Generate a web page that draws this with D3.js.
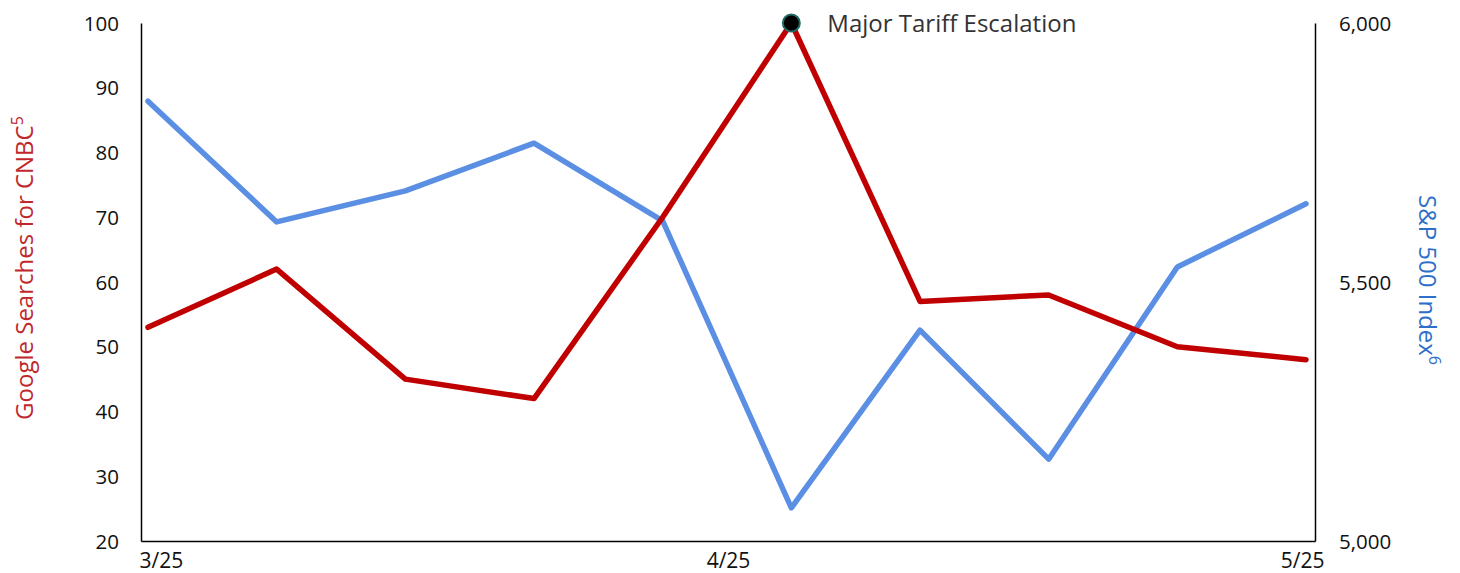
<!DOCTYPE html>
<html>
<head>
<meta charset="utf-8">
<script src="https://cdn.jsdelivr.net/npm/d3@7"></script>
<style>
  body { margin: 0; background: #fff; }
  text { font-family: "Open Sans", "Noto Sans", sans-serif; }
</style>
</head>
<body>
<div id="chart"></div>
<script>
// data
var weeks = ["w1", "w2", "w3", "w4", "w5", "w6", "w7", "w8", "w9", "w10"];
var cnbcSearches = [53, 62, 45, 42, 70, 100, 57, 58, 50, 48];
var spIndex = [5849, 5616, 5676, 5768, 5618, 5064, 5407, 5158, 5529, 5651];
var dateLabels = ["3/25", "4/25", "5/25"];
var leftTicks = [20, 30, 40, 50, 60, 70, 80, 90, 100];
var rightTicks = [5000, 5500, 6000];
var eventIndex = 5;
var eventLabel = "Major Tariff Escalation";

var svgWidth = 1460;
var svgHeight = 573;

var plotLeft = 141, plotRight = 1315, plotTop = 23, plotBottom = 541;

var svg = d3.select("#chart")
  .append("svg")
  .attr("width", svgWidth)
  .attr("height", svgHeight);

// scales
var xScale = d3.scalePoint()
  .domain(weeks)
  .range([148, 1306]);

var dateScale = d3.scalePoint()
  .domain(dateLabels)
  .range([plotLeft, plotRight]);

var yLeft = d3.scaleLinear()
  .domain([20, 100])
  .range([plotBottom, plotTop]);

var yRight = d3.scaleLinear()
  .domain([5000, 6000])
  .range([plotBottom, plotTop]);

// axes
var leftAxis = d3.axisLeft(yLeft).tickValues(leftTicks).tickSize(0).tickPadding(22);
var rightAxis = d3.axisRight(yRight).tickValues(rightTicks).tickSize(0)
  .tickPadding(24).tickFormat(d3.format(","));
var bottomAxis = d3.axisBottom(dateScale).tickSize(0).tickPadding(12);

var gLeft = svg.append("g")
  .attr("transform", `translate(${plotLeft},0)`)
  .call(leftAxis);
var gRight = svg.append("g")
  .attr("transform", `translate(${plotRight},0)`)
  .call(rightAxis);
var gBottom = svg.append("g")
  .attr("transform", `translate(0,${plotBottom})`)
  .call(bottomAxis);

[gLeft, gRight, gBottom].forEach(function(g) {
  g.select(".domain").attr("stroke", "#000").attr("stroke-width", 1.5);
  g.selectAll("text")
    .attr("font-size", 20.5)
    .attr("fill", "#111")
    .style("font-family", "'Open Sans', sans-serif");
});
gLeft.selectAll("text").attr("dy", "0.35em");
gRight.selectAll("text").attr("dy", "0.35em");
gBottom.selectAll("text").attr("font-size", 21);

// first and last date labels hug the axis ends
gBottom.selectAll(".tick text")
  .attr("text-anchor", function(d, i) {
    if (i === 0) return "start";
    if (i === dateLabels.length - 1) return "end";
    return "middle";
  })
  .attr("dx", function(d, i) {
    if (i === 0) return -2;
    if (i === dateLabels.length - 1) return 9;
    return 0;
  });

// lines
var redLine = d3.line()
  .x(function(d, i) { return xScale(weeks[i]); })
  .y(function(d) { return yLeft(d); });

var blueLine = d3.line()
  .x(function(d, i) { return xScale(weeks[i]); })
  .y(function(d) { return yRight(d); });

svg.append("path")
  .datum(spIndex)
  .attr("d", blueLine)
  .attr("fill", "none")
  .attr("stroke", "#5b8fe3")
  .attr("stroke-width", 5.5)
  .attr("stroke-linejoin", "round")
  .attr("stroke-linecap", "round");

svg.append("path")
  .datum(cnbcSearches)
  .attr("d", redLine)
  .attr("fill", "none")
  .attr("stroke", "#c00000")
  .attr("stroke-width", 5.5)
  .attr("stroke-linejoin", "round")
  .attr("stroke-linecap", "round");

// event marker
svg.append("circle")
  .attr("cx", xScale(weeks[eventIndex]))
  .attr("cy", yLeft(cnbcSearches[eventIndex]))
  .attr("r", 8.5)
  .attr("fill", "#000")
  .attr("stroke", "#1f6b63")
  .attr("stroke-width", 2);

svg.append("text")
  .attr("x", xScale(weeks[eventIndex]) + 36)
  .attr("y", yLeft(cnbcSearches[eventIndex]) + 1)
  .attr("dy", "0.35em")
  .attr("font-size", 24)
  .attr("fill", "#333")
  .text(eventLabel);

// axis titles
var leftTitle = svg.append("text")
  .attr("transform", "translate(33,268) rotate(-90)")
  .attr("text-anchor", "middle")
  .attr("font-size", 24)
  .attr("fill", "#c0282d");
leftTitle.append("tspan").text("Google Searches for CNBC");
leftTitle.append("tspan").attr("font-size", 16).attr("dy", -10).text("5");

var rightTitle = svg.append("text")
  .attr("transform", "translate(1419,280) rotate(90)")
  .attr("text-anchor", "middle")
  .attr("font-size", 24)
  .attr("fill", "#2e6fc8");
rightTitle.append("tspan").text("S&P 500 Index");
rightTitle.append("tspan").attr("font-size", 16).attr("dy", -10).text("6");
</script>
</body>
</html>
